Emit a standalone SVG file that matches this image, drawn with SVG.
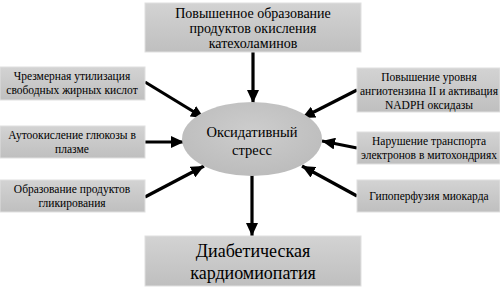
<svg xmlns="http://www.w3.org/2000/svg" width="500" height="287" viewBox="0 0 500 287">
<defs>
<linearGradient id="g" x1="0" y1="0" x2="0" y2="1">
<stop offset="0" stop-color="#d3d3d3"/>
<stop offset="1" stop-color="#bfbfbf"/>
</linearGradient>
<radialGradient id="eg" cx="0.5" cy="0.4" r="0.6">
<stop offset="0" stop-color="#cdcdcd"/>
<stop offset="1" stop-color="#bcbcbc"/>
</radialGradient>
<marker id="ah" markerUnits="userSpaceOnUse" markerWidth="14" markerHeight="12" refX="13" refY="6" orient="auto">
<path d="M0,0 L13,6 L0,12 Z" fill="#000"/>
</marker>
<style>
.box{fill:url(#g);stroke:#e0e0e0;stroke-width:1}
.t{font-family:"Liberation Serif","Times New Roman","DejaVu Serif",serif;fill:#000;text-anchor:middle}
.s{font-size:11.5px}
.m{font-size:14px}
.e{font-size:14.5px}
.l{font-size:18px}
.c{stroke:#000;stroke-width:3.2;fill:none;marker-end:url(#ah)}
</style>
</defs>
<rect width="500" height="287" fill="#fff"/>
<g id="connectors">
<line class="c" x1="253" y1="52" x2="253" y2="103"/>
<line class="c" x1="145" y1="82" x2="204" y2="118"/>
<line class="c" x1="145" y1="142" x2="184" y2="142"/>
<line class="c" x1="145" y1="197" x2="204" y2="166"/>
<line class="c" x1="357" y1="90" x2="302" y2="118"/>
<line class="c" x1="357" y1="148" x2="322" y2="141"/>
<line class="c" x1="357" y1="196" x2="302" y2="166"/>
<line class="c" x1="252" y1="175" x2="252" y2="236"/>
</g>
<g id="n-top">
<rect class="box" x="145" y="3" width="216" height="49"/>
<text class="t m" x="253" y="18">Повышенное образование</text>
<text class="t m" x="253" y="33">продуктов окисления</text>
<text class="t m" x="253" y="48">катехоламинов</text>
</g>
<g id="n-l1">
<rect class="box" x="0" y="67" width="145" height="33"/>
<text class="t s" x="72" y="80">Чрезмерная утилизация</text>
<text class="t s" x="72" y="94">свободных жирных кислот</text>
</g>
<g id="n-l2">
<rect class="box" x="0" y="126" width="145" height="32"/>
<text class="t s" x="72" y="139">Аутоокисление глюкозы в</text>
<text class="t s" x="72" y="153">плазме</text>
</g>
<g id="n-l3">
<rect class="box" x="0" y="180" width="145" height="32"/>
<text class="t s" x="72" y="193">Образование продуктов</text>
<text class="t s" x="72" y="207">гликирования</text>
</g>
<g id="n-r1">
<rect class="box" x="357" y="68" width="143" height="44"/>
<text class="t s" x="429" y="81">Повышение уровня</text>
<text class="t s" x="429" y="95">ангиотензина II и активация</text>
<text class="t s" x="429" y="109">NADPH оксидазы</text>
</g>
<g id="n-r2">
<rect class="box" x="357" y="132" width="143" height="32"/>
<text class="t s" x="429" y="145">Нарушение транспорта</text>
<text class="t s" x="429" y="159">электронов в митохондриях</text>
</g>
<g id="n-r3">
<rect class="box" x="357" y="180" width="143" height="32"/>
<text class="t s" x="429" y="200">Гипоперфузия миокарда</text>
</g>
<g id="n-center">
<ellipse cx="252" cy="139" rx="70" ry="37" fill="url(#eg)"/>
<text class="t e" x="252" y="137">Оксидативный</text>
<text class="t e" x="252" y="155">стресс</text>
</g>
<g id="n-bottom">
<rect class="box" x="145" y="236" width="216" height="50"/>
<text class="t l" x="253" y="257">Диабетическая</text>
<text class="t l" x="253" y="279">кардиомиопатия</text>
</g>
</svg>
